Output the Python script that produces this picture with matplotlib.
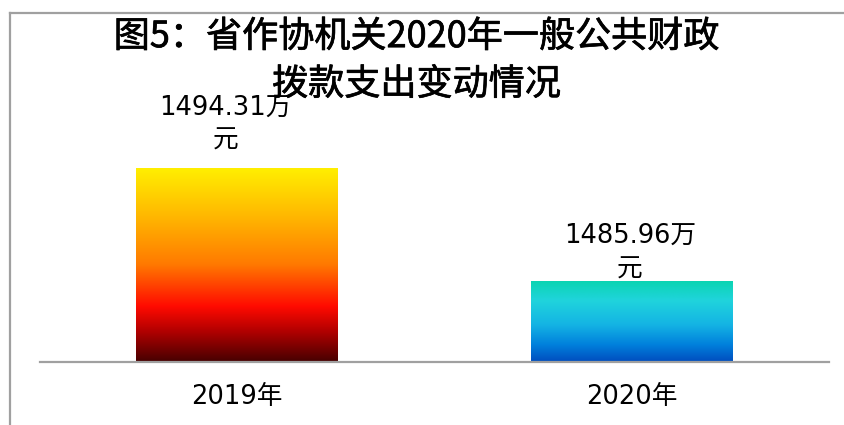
import matplotlib
matplotlib.use("Agg")
import matplotlib.pyplot as plt
import matplotlib.patheffects as pe
import numpy as np
from matplotlib.colors import LinearSegmentedColormap
from matplotlib.lines import Line2D

plt.rcParams['font.family'] = ['DejaVu Sans', 'Noto Sans CJK SC']

categories = ["2019年", "2020年"]
values = [1494.31, 1485.96]
value_labels = ["1494.31万\n元", "1485.96万\n元"]
title_text = "图5：省作协机关2020年一般公共财政\n拨款支出变动情况"

grad1 = LinearSegmentedColormap.from_list("g1", [
    (0.0, "#FFF000"), (0.25, "#FFB800"), (0.5, "#FF7A00"),
    (0.72, "#FF0A00"), (0.85, "#B00000"), (1.0, "#4A0000")])
grad2 = LinearSegmentedColormap.from_list("g2", [
    (0.0, "#0AD4B0"), (0.25, "#20D4DC"), (0.55, "#14B4E4"),
    (0.8, "#0080DC"), (1.0, "#0050C0")])
gradients = [grad1, grad2]

W, H = 845, 425
fig = plt.figure(figsize=(W / 100, H / 100), dpi=100)
ax = fig.add_axes([40 / W, 1 - 361.5 / H, (829 - 40) / W, 216.5 / H])

ymin, ymax = 1480, 1496
ax.set_xlim(-0.5, 1.5)
ax.set_ylim(ymin, ymax)

bars = ax.bar(range(len(values)), [v - ymin for v in values], bottom=ymin,
              width=0.512, color="none", edgecolor="none")
grad = np.linspace(0, 1, 256).reshape(-1, 1)
for b, cmap in zip(bars, gradients):
    x0, y0 = b.get_x(), b.get_y()
    w, h = b.get_width(), b.get_height()
    im = ax.imshow(grad, cmap=cmap, aspect="auto",
                   extent=[x0, x0 + w, y0, y0 + h], origin="upper", zorder=2)
    im.set_clip_path(b)
ax.set_xlim(-0.5, 1.5)
ax.set_ylim(ymin, ymax)

offsets = [(-12, 14), (-2, -2)]
for i, (v, lab) in enumerate(zip(values, value_labels)):
    ax.annotate(lab, xy=(i, v), xytext=(offsets[i][0] * 0.72, offsets[i][1] * 0.72),
                textcoords="offset points", ha="center", va="bottom",
                fontsize=18.5, color="#000000", linespacing=1.38,
                annotation_clip=False)

for s in ["top", "right", "left"]:
    ax.spines[s].set_visible(False)
ax.spines["bottom"].set_color("#A0A0A0")
ax.spines["bottom"].set_linewidth(1.6)
ax.set_yticks([])
ax.set_xticks(range(len(categories)))
ax.set_xticklabels(categories, fontsize=18.5)
ax.tick_params(axis="x", length=0, pad=16)

fig.text(0.493, 1 - 61 / H, title_text, ha="center", va="center",
         fontsize=26, fontweight="normal", linespacing=1.42,
         family=['Noto Sans CJK SC', 'DejaVu Sans'],
         path_effects=[pe.withStroke(linewidth=0.5, foreground="black")])

fig.add_artist(Line2D([10 / W, 10 / W], [0, 1 - 13 / H], transform=fig.transFigure,
                      color="#A0A0A0", linewidth=1.6))
fig.add_artist(Line2D([10 / W, 1], [1 - 13 / H, 1 - 13 / H], transform=fig.transFigure,
                      color="#A0A0A0", linewidth=1.6))

fig.savefig("out.png", dpi=100)
